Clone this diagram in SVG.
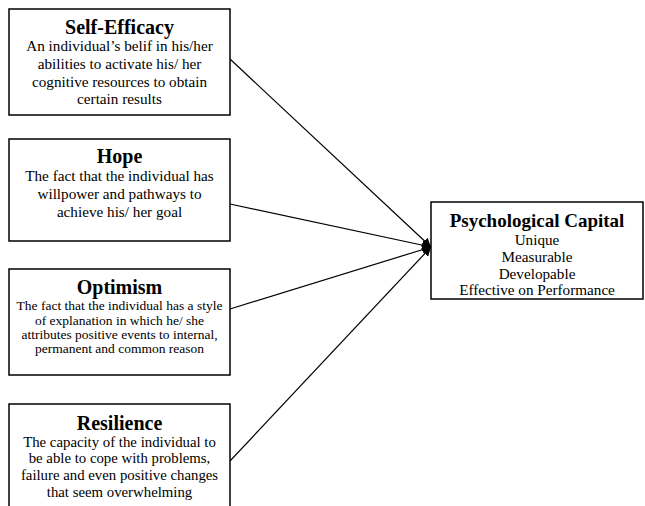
<svg xmlns="http://www.w3.org/2000/svg" width="645" height="506" viewBox="0 0 645 506">
<style>
.box{fill:#fff;stroke:#000;stroke-width:1.5}
.t{font-family:"Liberation Serif","Times New Roman",serif;font-weight:bold;font-size:20px;text-anchor:middle;fill:#000}
.b{font-family:"Liberation Serif","Times New Roman",serif;font-size:15.2px;text-anchor:middle;fill:#000}
.r{font-family:"Liberation Serif","Times New Roman",serif;font-size:14.8px;text-anchor:middle;fill:#000}
.s{font-family:"Liberation Serif","Times New Roman",serif;font-size:13.5px;text-anchor:middle;fill:#000}
.c{stroke:#000;stroke-width:1.2;fill:none}
</style>
<defs>
<marker id="ah" viewBox="0 0 10 10" refX="10" refY="5" markerWidth="9" markerHeight="9" markerUnits="userSpaceOnUse" orient="auto">
<path d="M0,0 L10,5 L0,10 z" fill="#000"/>
</marker>
</defs>
<rect width="645" height="506" fill="#fff"/>
<g id="connectors">
<line class="c" x1="230" y1="59" x2="431" y2="247" marker-end="url(#ah)"/>
<line class="c" x1="230" y1="204" x2="431" y2="247" marker-end="url(#ah)"/>
<line class="c" x1="230" y1="309" x2="431" y2="247" marker-end="url(#ah)"/>
<line class="c" x1="230" y1="461" x2="431" y2="247" marker-end="url(#ah)"/>
</g>
<g id="self-efficacy">
<rect class="box" x="9" y="9" width="221" height="106"/>
<text class="t" x="119.5" y="34">Self-Efficacy</text>
<text class="b" x="119.5" y="51">An individual’s belif in his/her</text>
<text class="b" x="119.5" y="69">abilities to activate his/ her</text>
<text class="b" x="119.5" y="87">cognitive resources to obtain</text>
<text class="b" x="119.5" y="104">certain results</text>
</g>
<g id="hope">
<rect class="box" x="9" y="139" width="221" height="102"/>
<text class="t" x="119.5" y="163">Hope</text>
<text class="b" x="119.5" y="181">The fact that the individual has</text>
<text class="b" x="119.5" y="199">willpower and pathways to</text>
<text class="b" x="119.5" y="217">achieve his/ her goal</text>
</g>
<g id="optimism">
<rect class="box" x="9" y="269" width="221" height="106"/>
<text class="t" x="119.5" y="294">Optimism</text>
<text class="s" x="119.5" y="310">The fact that the individual has a style</text>
<text class="s" x="119.5" y="325">of explanation in which he/ she</text>
<text class="s" x="119.5" y="339">attributes positive events to internal,</text>
<text class="s" x="119.5" y="353">permanent and common reason</text>
</g>
<g id="resilience">
<rect class="box" x="9" y="404" width="221" height="110"/>
<text class="t" x="119.5" y="430">Resilience</text>
<text class="r" x="119.5" y="447">The capacity of the individual to</text>
<text class="r" x="119.5" y="463">be able to cope with problems,</text>
<text class="r" x="119.5" y="480">failure and even positive changes</text>
<text class="r" x="119.5" y="497">that seem overwhelming</text>
</g>
<g id="psychological-capital">
<rect class="box" x="431" y="202" width="212" height="97"/>
<text class="t" x="537" y="227" style="font-size:19px">Psychological Capital</text>
<text class="b" x="537" y="245">Unique</text>
<text class="b" x="537" y="262">Measurable</text>
<text class="b" x="537" y="279">Developable</text>
<text class="b" x="537" y="295">Effective on Performance</text>
</g>
</svg>
